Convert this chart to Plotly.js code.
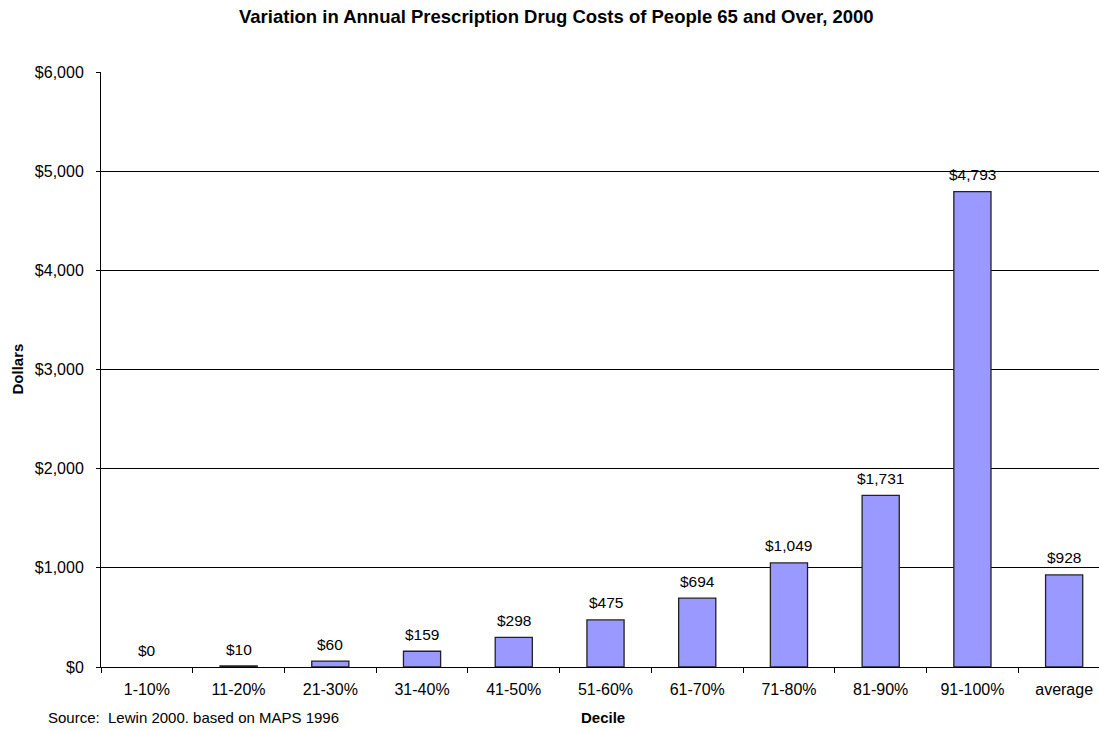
<!DOCTYPE html>
<html><head><meta charset="utf-8">
<script src="https://cdn.plot.ly/plotly-3.0.1.min.js"></script>
<style>body{margin:0;background:#fff}#c{width:1099px;height:730px}</style>
</head><body><div id="c"></div>
<script>
const categories = ["1-10%","11-20%","21-30%","31-40%","41-50%","51-60%","61-70%","71-80%","81-90%","91-100%","average"];
const costs = [0,10,60,159,298,475,694,1049,1731,4793,928];
const yTickVals = [0,1000,2000,3000,4000,5000,6000];
const yTickText = ["$0","$1,000","$2,000","$3,000","$4,000","$5,000","$6,000"];

const F = "Liberation Sans, Arial, sans-serif";
const FS = 16;
const trace = {
  type: "bar", x: categories, y: costs,
  marker: {color: "#9999FF", line: {color: "#222", width: costs.map(v => v === 0 ? 0 : 1.3)}},
  hoverinfo: "none"
};
const labelAnns = categories.map((c, i) => ({
  x: c, y: costs[i], xref: "x", yref: "y",
  text: "$" + costs[i].toLocaleString("en-US"),
  showarrow: false, yanchor: "middle", xanchor: "center", yshift: 17,
  font: {family: F, size: 15.5, color: "#000"}
}));
const layout = {
  width: 1099, height: 730,
  margin: {l: 101, r: 0, t: 72, b: 63},
  paper_bgcolor: "#fff", plot_bgcolor: "#fff",
  bargap: 0.595, showlegend: false,
  font: {family: F, size: FS, color: "#000"},
  xaxis: {
    type: "category", range: [-0.5, 10.38], tickson: "boundaries",
    ticks: "outside", ticklen: 5, tickcolor: "#000", tickwidth: 1,
    showline: true, linecolor: "#000", linewidth: 1, showgrid: false,
    ticklabelstandoff: 8,
    tickfont: {family: F, size: FS}, fixedrange: true
  },
  yaxis: {
    range: [0, 6000], tickvals: yTickVals, ticktext: yTickText,
    ticks: "outside", ticklen: 4, tickcolor: "#000",
    showline: true, linecolor: "#000", linewidth: 1,
    showgrid: true, gridcolor: "#000", gridwidth: 1, zeroline: false,
    ticklabelstandoff: 9,
    tickfont: {family: F, size: FS}, fixedrange: true
  },
  annotations: labelAnns.concat([
    {text: "<b>Variation in Annual Prescription Drug Costs of People 65 and Over, 2000</b>",
     xref: "paper", yref: "paper", x: (556-101)/998, y: 1 + (72-17)/595, xanchor: "center", yanchor: "middle",
     showarrow: false, font: {family: F, size: 18.5}},
    {text: "<b>Dollars</b>", xref: "paper", yref: "paper", x: (17-101)/998, y: 0.5, textangle: -90,
     xanchor: "center", yanchor: "middle", showarrow: false, font: {family: F, size: 15}},
    {text: "<b>Decile</b>", xref: "paper", yref: "paper", x: (603-101)/998, y: -(717-667)/595,
     xanchor: "center", yanchor: "middle", showarrow: false, font: {family: F, size: 15}},
    {text: "Source:  Lewin 2000. based on MAPS 1996", xref: "paper", yref: "paper", x: (46-101)/998, y: -(717-667)/595,
     xanchor: "left", yanchor: "middle", showarrow: false, font: {family: F, size: 15}}
  ])
};
Plotly.newPlot("c", [trace], layout, {staticPlot: true});
</script></body></html>
